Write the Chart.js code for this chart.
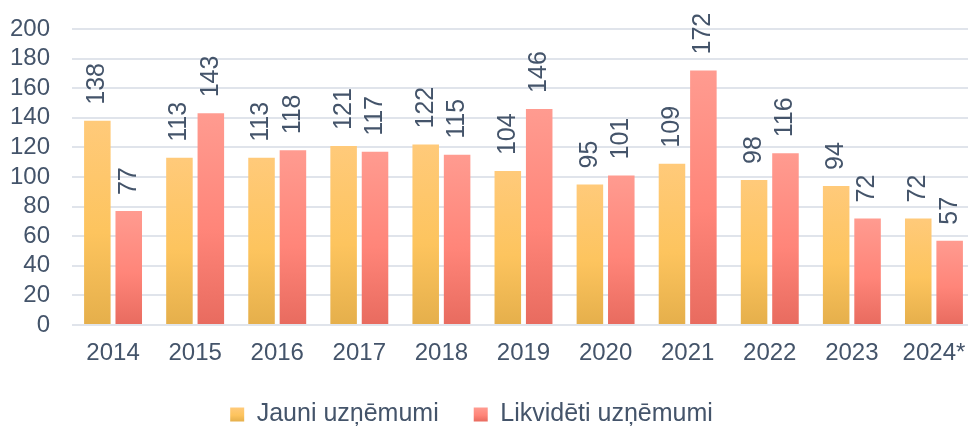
<!DOCTYPE html>
<html>
<head>
<meta charset="utf-8">
<script src="https://cdn.jsdelivr.net/npm/chart.js@4/dist/chart.umd.min.js"></script>
<style>
  html, body { margin: 0; padding: 0; background: #fff; overflow: hidden; }
</style>
</head>
<body>
<canvas id="chart" width="976" height="437"></canvas>
<script>
// dati no attēla
const years = ["2014", "2015", "2016", "2017", "2018", "2019", "2020", "2021", "2022", "2023", "2024*"];
const jauni = [138, 113, 113, 121, 122, 104, 95, 109, 98, 94, 72];
const likvideti = [77, 143, 118, 117, 115, 146, 101, 172, 116, 72, 57];
const yTicks = [0, 20, 40, 60, 80, 100, 120, 140, 160, 180, 200];

const TEXT = "#44546A";
const FONT = "'Liberation Sans', Arial, sans-serif";
const yellowStops = ["#FFCA7A", "#FDC45E", "#E5AF4B"];
const redStops = ["#FF9B90", "#FF8579", "#E86B5F"];

function makeGradient(c, top, bottom, stops) {
    const g = c.createLinearGradient(0, top, 0, bottom);
    g.addColorStop(0, stops[0]);
    g.addColorStop(0.55, stops[1]);
    g.addColorStop(1, stops[2]);
    return g;
}

// katram stabiņam savs gradients (no augšas uz leju)
function barGradient(ctx, stops) {
    const chart = ctx.chart;
    if (!chart.chartArea || ctx.type !== "data") return stops[1];
    const y = chart.scales.y;
    const top = y.getPixelForValue(ctx.raw);
    const bottom = y.getPixelForValue(0);
    if (!(bottom > top)) return stops[1];
    return makeGradient(chart.ctx, top, bottom, stops);
}

// vertikālie skaitļi virs stabiņiem + leģendas kvadrātiņi ar gradientu
const barLabels = {
    id: "barLabels",
    afterUpdate(chart) {
        const lg = chart.legend;
        if (!lg || !lg.legendItems) return;
        lg.right -= 32; // leģenda nedaudz pa kreisi
        const all = [yellowStops, redStops];
        lg.legendItems.forEach((item, i) => {
            const hb = lg.legendHitBoxes[i];
            if (!hb) return;
            const top = hb.top + (25 - 14) / 2;
            item.fillStyle = makeGradient(chart.ctx, top, top + 14, all[i]);
            item.lineWidth = 0;
        });
    },
    afterDatasetsDraw(chart) {
        const c = chart.ctx;
        c.save();
        c.font = "25px " + FONT;
        c.fillStyle = TEXT;
        c.textAlign = "left";
        c.textBaseline = "middle";
        chart.data.datasets.forEach((ds, i) => {
            chart.getDatasetMeta(i).data.forEach((bar, j) => {
                c.save();
                c.translate(bar.x, bar.y - 16);
                c.rotate(-Math.PI / 2);
                c.fillText(String(ds.data[j]), 0, 0);
                c.restore();
            });
        });
        c.restore();
    }
};

new Chart(document.getElementById("chart"), {
    type: "bar",
    data: {
        labels: years,
        datasets: [{
            label: "Jauni uzņēmumi",
            data: jauni,
            backgroundColor: ctx => barGradient(ctx, yellowStops),
            categoryPercentage: 0.765,
            barPercentage: 0.845
        }, {
            label: "Likvidēti uzņēmumi",
            data: likvideti,
            backgroundColor: ctx => barGradient(ctx, redStops),
            categoryPercentage: 0.765,
            barPercentage: 0.845
        }]
    },
    options: {
        responsive: false,
        animation: false,
        devicePixelRatio: 1,
        layout: { padding: { top: 29, right: 1, left: 0, bottom: 0 } },
        plugins: {
            tooltip: { enabled: false },
            legend: {
                position: "bottom",
                labels: {
                    color: TEXT,
                    font: { family: FONT, size: 25 },
                    boxWidth: 14,
                    boxHeight: 14,
                    padding: 35
                }
            }
        },
        scales: {
            x: {
                grid: { display: false },
                border: { display: false },
                ticks: { color: TEXT, font: { family: FONT, size: 24 }, padding: 6 },
                afterFit(scale) { scale.height = 42; }
            },
            y: {
                min: 0,
                max: 200,
                afterBuildTicks(scale) { scale.ticks = yTicks.map(v => ({ value: v })); },
                afterFit(scale) { scale.width = 72; },
                grid: { color: "#E0E4EB", lineWidth: 2, tickLength: 14, tickColor: "rgba(0,0,0,0)" },
                border: { display: false },
                ticks: { color: TEXT, font: { family: FONT, size: 24 }, padding: 8, autoSkip: false }
            }
        }
    },
    plugins: [barLabels]
});
</script>
</body>
</html>
